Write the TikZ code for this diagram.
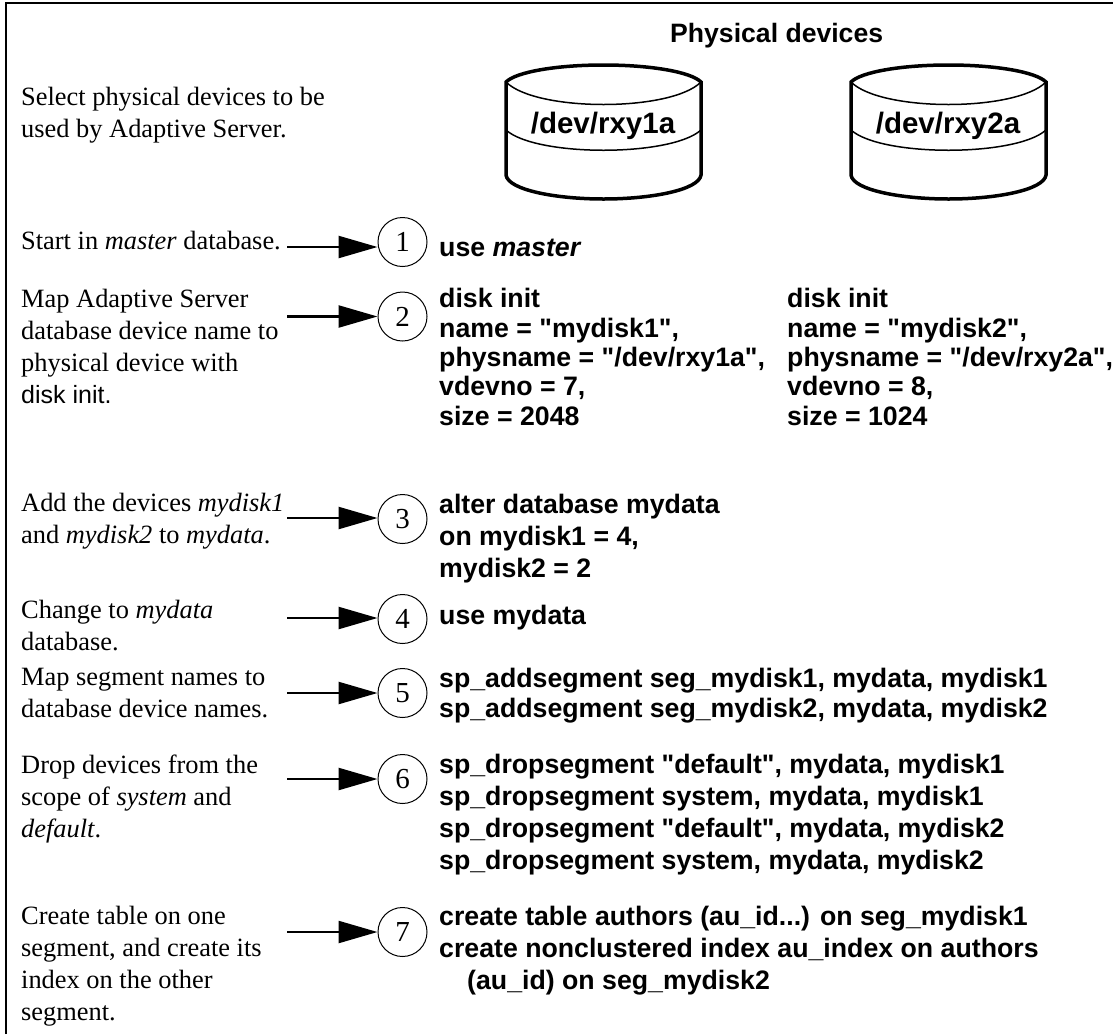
\documentclass[tikz,border=0pt]{standalone}
\usepackage{fontspec}
\setmainfont{Liberation Serif}
\setsansfont[Ligatures=TeXOff]{Liberation Sans}
\usetikzlibrary{arrows.meta}
\tikzset{
 x=1pt,y=-1pt,
 note/.style={anchor=base west,inner sep=0pt,align=left,font=\fontsize{26.4}{31.7}\selectfont},
 code/.style={anchor=base west,inner sep=0pt,align=left,font=\fontsize{26.7}{#1}\selectfont\sffamily\bfseries},
 code/.default=32,
 num/.style={circle,draw,line width=1pt,minimum size=49pt,inner sep=0pt,font=\fontsize{29}{29}\selectfont},
 arr/.style={line width=2.4pt,-{Triangle[length=39pt,width=22pt]}},
 disk/.style={line width=3.5pt},
 diskin/.style={line width=1.5pt},
}
\newcommand{\cyl}[3]{%
 \draw[diskin] (#1,82) .. controls (#1+30,112) and (#1+165,112) .. (#1+195,82);
 \draw[diskin] (#1,130) .. controls (#1+30,157) and (#1+165,157) .. (#1+195,130);
 \draw[disk] (#1,82) .. controls (#1+10,72) and (#1+50,65) .. (#1+97.5,65) .. controls (#1+145,65) and (#1+185,72) .. (#1+195,82) -- (#1+195,175) .. controls (#1+193,190) and (#1+145,199) .. (#1+97.5,199) .. controls (#1+50,199) and (#1+2,190) .. (#1,175) -- cycle;
 \node[anchor=base,inner sep=0pt,font=\fontsize{29.5}{29.5}\selectfont\sffamily\bfseries] (#3) at (#1+97,133) {#2};
}
\begin{document}
\begin{tikzpicture}
\useasboundingbox (0,0) rectangle (1113,1034);
\draw[line width=2pt] (6,1034) -- (6,3) -- (1113,3);
\node[anchor=base west,inner sep=0pt,font=\fontsize{26.6}{28}\selectfont\sffamily\bfseries] (title) at (670,42) {Physical devices};
\cyl{506}{/dev/rxy1a}{d1}
\cyl{851}{/dev/rxy2a}{d2}
\node[note] (n0) at (21,137) {Select physical devices to be\\used by Adaptive Server.};
\node[note] (n1) at (21,249) {Start in \textit{master} database.};
\node[note] (n2) at (21,403) {Map Adaptive Server\\database device name to\\physical device with\\{\fontsize{25}{31.7}\selectfont\sffamily\mdseries disk init.}};
\node[note] (n3) at (21,543) {Add the devices \textit{mydisk1}\\and \textit{mydisk2} to \textit{mydata}.};
\node[note] (n4) at (21,650) {Change to \textit{mydata}\\database.};
\node[note] (n5) at (21,717) {Map segment names to\\database device names.};
\node[note] (n6) at (21,837) {Drop devices from the\\scope of \textit{system} and\\\textit{default}.};
\node[note] (n7) at (21,1020) {Create table on one\\segment, and create its\\index on the other\\segment.};
\foreach \i/\yc/\ya in {1/242/247,2/316.5/316.5,3/519/518,4/619/618,5/693/693,6/779/779,7/932/932}{
 \node[num] (c\i) at (402.5,\yc) {\i};
 \coordinate (s\i) at (287,\ya);
 \draw[arr] (s\i) -- (s\i -| c\i.west);
}
\node[code] (t1) at (439,256) {use \textit{master}};
\node[code=29.3] (t2a) at (439,425) {disk init\\name = "mydisk1",\\physname = "/dev/rxy1a",\\vdevno = 7,\\size = 2048};
\node[code=29.3] (t2b) at (787,425) {disk init\\name = "mydisk2",\\physname = "/dev/rxy2a",\\vdevno = 8,\\size = 1024};
\node[code] (t3) at (439,577) {alter database mydata\\on mydisk1 = 4,\\mydisk2 = 2};
\node[code] (t4) at (439,624) {use mydata};
\node[code=30] (t5) at (439,717) {sp\_addsegment seg\_mydisk1, mydata, mydisk1\\sp\_addsegment seg\_mydisk2, mydata, mydisk2};
\node[code] (t6) at (439,869) {sp\_dropsegment "default", mydata, mydisk1\\sp\_dropsegment system, mydata, mydisk1\\sp\_dropsegment "default", mydata, mydisk2\\sp\_dropsegment system, mydata, mydisk2};
\node[code] (t7) at (439,989) {create table authors (au\_id...) on seg\_mydisk1\\create nonclustered index au\_index on authors\\\hspace*{28pt}(au\_id) on seg\_mydisk2};
\end{tikzpicture}
\end{document}
